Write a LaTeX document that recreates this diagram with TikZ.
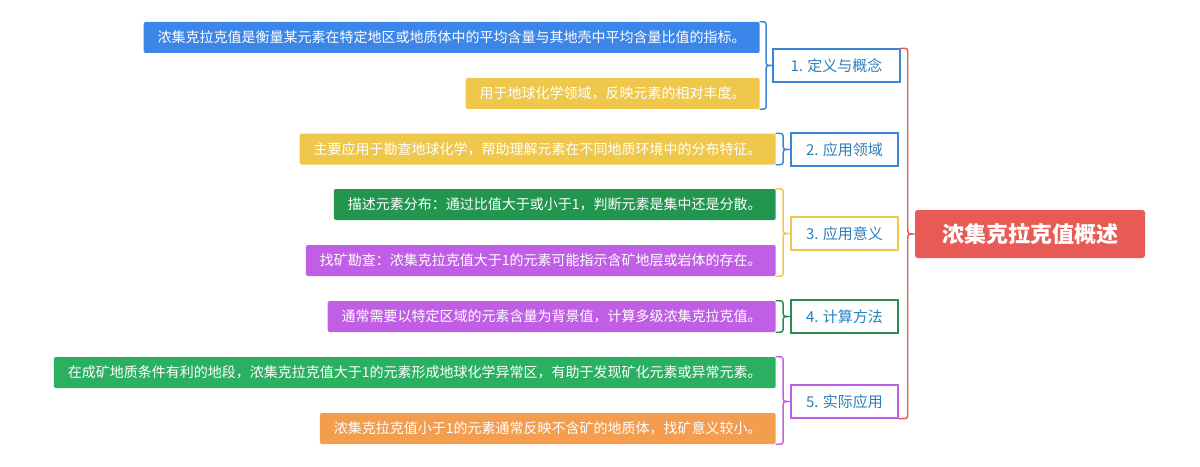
\documentclass[tikz,border=0pt]{standalone}
\usepackage{fontspec}
\setmainfont{Noto Sans CJK SC}
\usetikzlibrary{calc}
\definecolor{cblue}{HTML}{3C86EA}
\definecolor{cyellow}{HTML}{EFC84B}
\definecolor{cgreen}{HTML}{22964F}
\definecolor{cpurple}{HTML}{C05FE6}
\definecolor{cgreenb}{HTML}{2BB062}
\definecolor{corange}{HTML}{F39D4E}
\definecolor{cred}{HTML}{E85A55}
\definecolor{bblue}{HTML}{3A87D6}
\definecolor{bgreen}{HTML}{2A8A50}
\definecolor{btext}{HTML}{2B80BA}
\newcommand\mybrace[4]{%
  \draw[#4] let \p1=(#1), \p2=(#2), \p3=(#3), \p4=($(#1)!0.5!(#3)$) in
  (\p1) .. controls (\x4,\y1) .. (\x4,\y1-4pt) -- (\x4,\y3+4pt) .. controls (\x4,\y3) .. (\p3)
  .. controls (\x4,\y3) .. (\x4,\y3-4pt) -- (\x4,\y2+4pt) .. controls (\x4,\y2) .. (\p2);}
\begin{document}
\begin{tikzpicture}[x=0.75pt,y=-0.75pt,
  leaf/.style={fill=#1, text=white, rounded corners=1.5pt, minimum height=23.25pt,
    inner xsep=10.5pt, inner ysep=0pt, font=\fontsize{10.5}{12}\selectfont, anchor=east},
  branch/.style={draw=#1, fill=white, line width=1.1pt, text=btext, minimum height=24.75pt,
    minimum width=80.25pt, inner sep=0pt, font=\fontsize{11.25}{13}\selectfont},
  bline/.style={draw=#1, line width=1.1pt, line cap=round}]
\useasboundingbox (0,0) rectangle (1200,467);
% root
\node[fill=cred, text=white, rounded corners=2pt, minimum width=172.5pt, minimum height=36pt,
  inner sep=0pt, font=\fontsize{16.5}{19}\selectfont\bfseries] (root) at (1030,234) {浓集克拉克值概述};
% branches
\node[branch=bblue, minimum width=95.25pt] (b1) at (836.5,65.5) {1. 定义与概念};
\node[branch=bblue] (b2) at (844.5,149.5) {2. 应用领域};
\node[branch=cyellow] (b3) at (844.5,233.5) {3. 应用意义};
\node[branch=bgreen] (b4) at (844.5,316.5) {4. 计算方法};
\node[branch=cpurple] (b5) at (844.5,401.5) {5. 实际应用};
% leaves
\node[leaf=cblue] (l1a) at (760,37.5) {浓集克拉克值是衡量某元素在特定地区或地质体中的平均含量与其地壳中平均含量比值的指标。};
\node[leaf=cyellow] (l1b) at (760,93.5) {用于地球化学领域，反映元素的相对丰度。};
\node[leaf=cyellow] (l2a) at (776,149) {主要应用于勘查地球化学，帮助理解元素在不同地质环境中的分布特征。};
\node[leaf=cgreen] (l3a) at (776,204.5) {描述元素分布：通过比值大于或小于1，判断元素是集中还是分散。};
\node[leaf=cpurple] (l3b) at (776,260.5) {找矿勘查：浓集克拉克值大于1的元素可能指示含矿地层或岩体的存在。};
\node[leaf=cpurple] (l4a) at (776,316.5) {通常需要以特定区域的元素含量为背景值，计算多级浓集克拉克值。};
\node[leaf=cgreenb] (l5a) at (776,372.5) {在成矿地质条件有利的地段，浓集克拉克值大于1的元素形成地球化学异常区，有助于发现矿化元素或异常元素。};
\node[leaf=corange] (l5b) at (776,428.5) {浓集克拉克值小于1的元素通常反映不含矿的地质体，找矿意义较小。};
% braces
\mybrace{b1.north east}{b5.south east}{root.west}{bline=cred}
\mybrace{l1a.north east}{l1b.south east}{b1.west}{bline=bblue}
\mybrace{l2a.north east}{l2a.south east}{b2.west}{bline=bblue}
\mybrace{l3a.north east}{l3b.south east}{b3.west}{bline=cyellow}
\mybrace{l4a.north east}{l4a.south east}{b4.west}{bline=bgreen}
\mybrace{l5a.north east}{l5b.south east}{b5.west}{bline=cpurple}
\end{tikzpicture}
\end{document}
